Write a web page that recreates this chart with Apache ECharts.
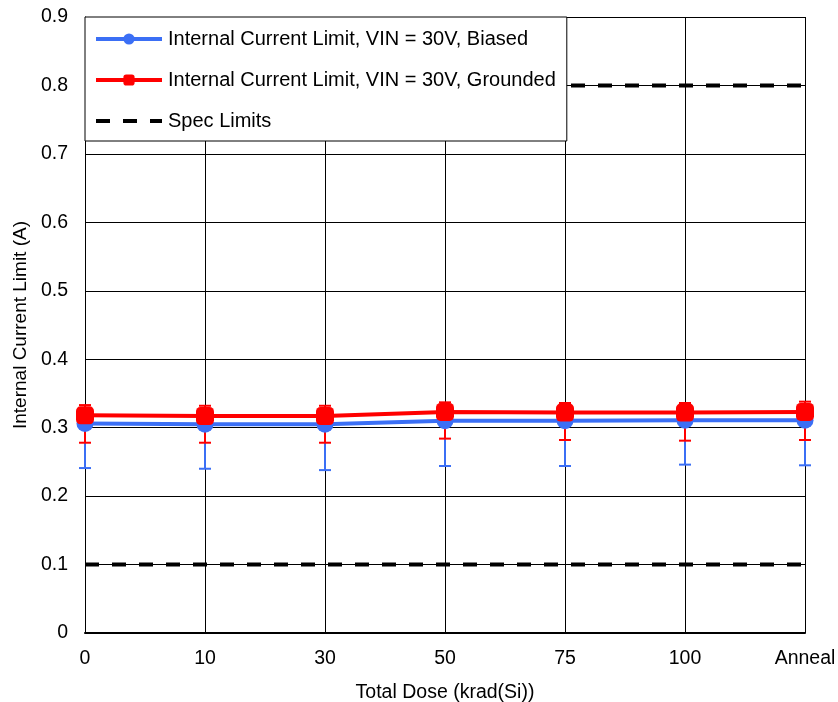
<!DOCTYPE html>
<html>
<head>
<meta charset="utf-8">
<script src="https://cdn.jsdelivr.net/npm/echarts@6/dist/echarts.min.js"></script>
<style>
  html, body { margin: 0; padding: 0; background: #fff; }
  #chart { width: 838px; height: 702px; }
</style>
</head>
<body>
<div id="chart"></div>
<script>
// Total dose steps (krad(Si)) plus the anneal step
const doseSteps = ['0', '10', '30', '50', '75', '100', 'Anneal'];

// Mean internal current limit (A)
const biasedMean = [0.306, 0.305, 0.305, 0.310, 0.310, 0.311, 0.311];
const groundedMean = [0.318, 0.317, 0.317, 0.323, 0.322, 0.322, 0.323];

// Min / max spread per dose step (A)
const biasedLow = [0.241, 0.240, 0.238, 0.244, 0.244, 0.246, 0.245];
const biasedHigh = [0.322, 0.321, 0.321, 0.326, 0.326, 0.327, 0.327];
const groundedLow = [0.278, 0.278, 0.278, 0.284, 0.282, 0.281, 0.282];
const groundedHigh = [0.333, 0.332, 0.332, 0.337, 0.336, 0.336, 0.338];

// Specification limits (A)
const specLow = 0.1;
const specHigh = 0.8;

const yTicks = [0, 0.1, 0.2, 0.3, 0.4, 0.5, 0.6, 0.7, 0.8, 0.9];

const FONT = '"Liberation Sans", Arial, sans-serif';
const BLUE = '#3b6ff5';
const RED = '#ff0000';

function rangeData(low, high) {
  return low.map((v, i) => [i, v, high[i]]);
}

function errorBars(color) {
  return function (params, api) {
    const x = api.value(0);
    const lo = api.coord([x, api.value(1)]);
    const hi = api.coord([x, api.value(2)]);
    const half = 6;
    const style = { stroke: color, lineWidth: 2 };
    return {
      type: 'group',
      children: [
        { type: 'line', shape: { x1: lo[0], y1: lo[1], x2: hi[0], y2: hi[1] }, style },
        { type: 'line', shape: { x1: lo[0] - half, y1: lo[1], x2: lo[0] + half, y2: lo[1] }, style },
        { type: 'line', shape: { x1: hi[0] - half, y1: hi[1], x2: hi[0] + half, y2: hi[1] }, style }
      ]
    };
  };
}

const chart = echarts.init(document.getElementById('chart'), null, { renderer: 'canvas' });

chart.setOption({
  animation: false,
  backgroundColor: '#fff',
  textStyle: { fontFamily: FONT, color: '#000' },
  grid: { left: 85, right: 33, top: 17, bottom: 69, outerBoundsMode: 'none', containLabel: false },
  legend: {
    orient: 'vertical',
    left: 85,
    top: 17,
    padding: [12, 11, 10, 9],
    itemWidth: 66,
    itemHeight: 14,
    itemGap: 21,
    backgroundColor: '#fff',
    borderColor: '#000',
    borderWidth: 1,
    lineStyle: { width: 4 },
    textStyle: { fontFamily: FONT, fontSize: 20, color: '#000', padding: [0, 0, 0, 1] },
    data: [
      'Internal Current Limit, VIN = 30V, Biased',
      'Internal Current Limit, VIN = 30V, Grounded',
      { name: 'Spec Limits', itemStyle: { opacity: 0 } }
    ]
  },
  xAxis: {
    type: 'category',
    data: doseSteps,
    boundaryGap: false,
    name: 'Total Dose (krad(Si))',
    nameLocation: 'middle',
    nameGap: 50,
    nameTextStyle: { fontFamily: FONT, fontSize: 19.5, color: '#000' },
    axisLine: { lineStyle: { color: '#000', width: 2 } },
    axisTick: { show: false },
    axisLabel: { fontFamily: FONT, fontSize: 19.5, color: '#000', margin: 16 },
    splitLine: { show: true, lineStyle: { color: '#000', width: 1 } }
  },
  yAxis: {
    type: 'value',
    min: 0,
    max: 0.9,
    interval: 0.1,
    name: 'Internal Current Limit (A)',
    nameLocation: 'middle',
    nameGap: 54,
    nameTextStyle: { fontFamily: FONT, fontSize: 19, color: '#000' },
    axisLine: { show: true, lineStyle: { color: '#000', width: 1 } },
    axisTick: { show: false },
    axisLabel: {
      fontFamily: FONT, fontSize: 19.5, color: '#000', margin: 17,
      formatter: v => {
        const t = yTicks.find(k => Math.abs(k - v) < 1e-9);
        return t === 0 ? '0' : (t !== undefined ? t.toFixed(1) : '');
      }
    },
    splitLine: { show: true, lineStyle: { color: '#000', width: 1 } }
  },
  series: [
    {
      name: 'Spec Limits',
      type: 'line',
      data: doseSteps.map(() => specLow),
      symbol: 'none',
      lineStyle: { color: '#000', width: 4, type: [14, 13] },
      itemStyle: { color: '#000' },
      z: 3
    },
    {
      name: 'Spec Limits',
      type: 'line',
      data: doseSteps.map(() => specHigh),
      symbol: 'none',
      lineStyle: { color: '#000', width: 4, type: [14, 13] },
      itemStyle: { color: '#000' },
      z: 3
    },
    {
      name: 'biasedRange',
      type: 'custom',
      renderItem: errorBars(BLUE),
      data: rangeData(biasedLow, biasedHigh),
      encode: { x: 0, y: [1, 2] },
      z: 4
    },
    {
      name: 'groundedRange',
      type: 'custom',
      renderItem: errorBars(RED),
      data: rangeData(groundedLow, groundedHigh),
      encode: { x: 0, y: [1, 2] },
      z: 5
    },
    {
      name: 'Internal Current Limit, VIN = 30V, Biased',
      type: 'line',
      data: biasedMean,
      symbol: 'circle',
      symbolSize: 17,
      lineStyle: { color: BLUE, width: 4 },
      itemStyle: { color: BLUE },
      z: 6
    },
    {
      name: 'Internal Current Limit, VIN = 30V, Grounded',
      type: 'line',
      data: groundedMean,
      symbol: 'roundRect',
      symbolSize: 18,
      lineStyle: { color: RED, width: 4 },
      itemStyle: { color: RED },
      z: 7
    }
  ]
});
</script>
</body>
</html>
